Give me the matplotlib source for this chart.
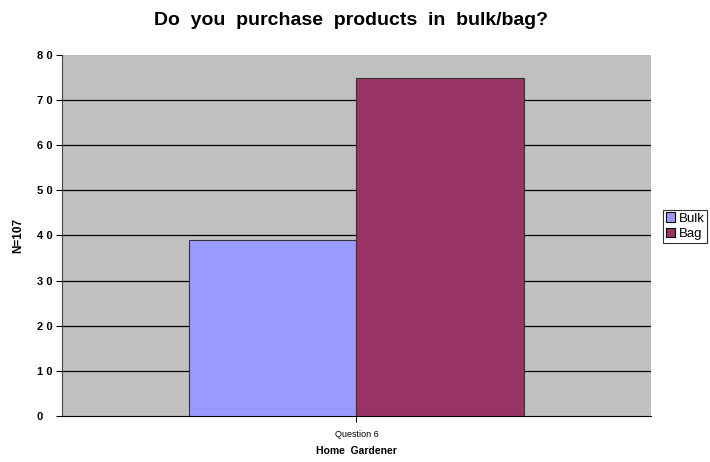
import matplotlib
matplotlib.use("Agg")
import matplotlib.pyplot as plt
from matplotlib.patches import Patch

# data
series = ["Bulk", "Bag"]
values = [39, 75]
colors = ["#9999FF", "#993366"]
category = "Question 6"
yticks = [0, 10, 20, 30, 40, 50, 60, 70, 80]
ytick_labels = ["0", "1 0", "2 0", "3 0", "4 0", "5 0", "6 0", "7 0", "8 0"]

plt.rcParams["font.family"] = ["Liberation Sans", "DejaVu Sans"]

fig = plt.figure(figsize=(7.10, 4.62), dpi=100)
ax = fig.add_axes([0.0873, 0.0996, 0.8296, 0.7814])
ax.set_facecolor("#C0C0C0")

width = 0.285
offsets = [-width / 2, width / 2]
for name, v, c, off in zip(series, values, colors, offsets):
    ax.bar(off, v, width=width, color=c, edgecolor="#333333", linewidth=0.8,
           zorder=3, label=name)

ax.set_xlim(-0.5, 0.5)
ax.set_ylim(0, 80)
ax.set_yticks(yticks)
ax.set_yticklabels(ytick_labels, fontsize=8, fontweight="bold")
ax.set_xticks([0])
ax.set_xticklabels([category], fontsize=6.5)
ax.tick_params(axis="y", length=4, width=0.8, pad=14)
ax.tick_params(axis="x", length=4, width=0.8, pad=6)
for lab in ax.get_yticklabels():
    lab.set_horizontalalignment("left")

# gridlines only between the axis ends (none on top at 80)
for y in yticks[1:-1]:
    ax.axhline(y, color="black", linewidth=0.9, zorder=1)
for side in ["top", "right"]:
    ax.spines[side].set_visible(False)
ax.spines["left"].set_color("#444444")
ax.spines["bottom"].set_color("black")

ax.set_xlabel("Home  Gardener", fontsize=7.5, fontweight="bold", labelpad=5)
ax.set_ylabel("N=107", fontsize=8.5, fontweight="bold", labelpad=9)
fig.text(0.494, 0.955, "Do  you  purchase  products  in  bulk/bag?",
         fontsize=14, fontweight="bold", ha="center", va="center")

handles = [Patch(facecolor=c, edgecolor="black", linewidth=0.8, label=s)
           for s, c in zip(series, colors)]
leg = fig.legend(handles=handles, loc="upper left",
                 bbox_to_anchor=(0.934, 0.546), fontsize=9.5, frameon=True,
                 fancybox=False, edgecolor="black", handlelength=0.7,
                 handleheight=0.7, handletextpad=0.3, borderpad=0.2,
                 labelspacing=0.25, borderaxespad=0)
leg.get_frame().set_linewidth(0.8)

fig.savefig("out.png", dpi=100)
